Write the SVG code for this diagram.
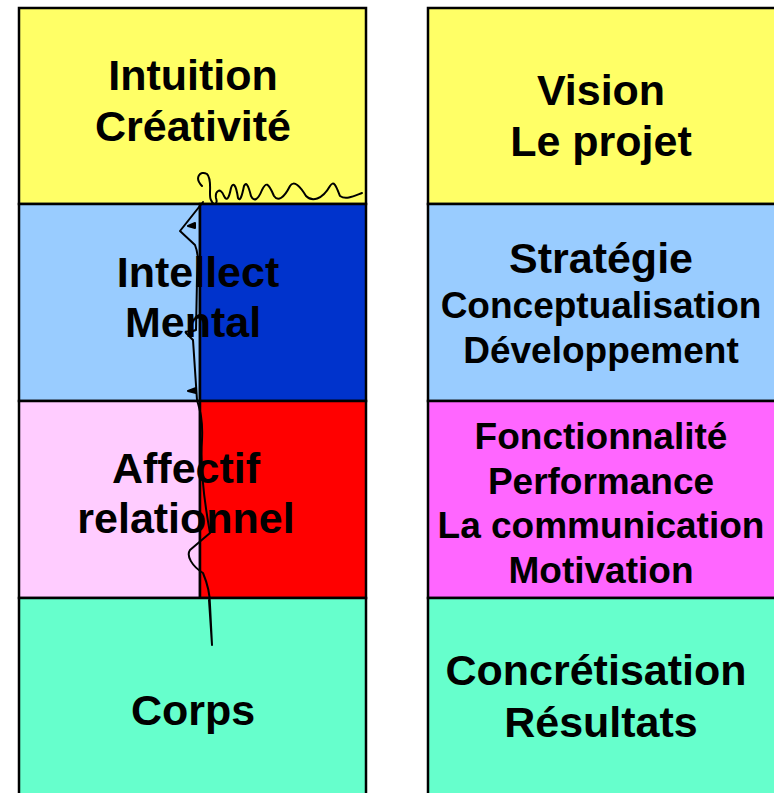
<svg xmlns="http://www.w3.org/2000/svg" width="774" height="793" viewBox="0 0 774 793">
<style>
.b{stroke:#000;stroke-width:2.5}
.t{font-family:"Liberation Sans",Arial,sans-serif;font-weight:bold;text-anchor:middle;fill:#000}
.L{font-size:43px}
.S{font-size:37px}
</style>
<rect width="774" height="793" fill="#fff"/>
<g id="left-column">
<g id="intuition">
<rect x="19" y="8" width="347" height="196" fill="#FFFF66" class="b"/>
<text class="t L" x="193" y="90">Intuition</text>
<text class="t L" x="193" y="141">Créativité</text>
</g>
<g id="intellect">
<rect x="19" y="204" width="181" height="197" fill="#99CCFF" class="b"/>
<rect x="200" y="204" width="166" height="197" fill="#0033CC" class="b"/>
<text class="t L" x="198" y="287">Intellect</text>
<text class="t L" x="193" y="337">Mental</text>
</g>
<g id="affectif">
<rect x="19" y="401" width="181" height="197" fill="#FFCCFF" class="b"/>
<rect x="200" y="401" width="166" height="197" fill="#FF0000" class="b"/>
<text class="t L" x="186" y="483">Affectif</text>
<text class="t L" x="186" y="533">relationnel</text>
</g>
<g id="corps">
<rect x="19" y="598" width="347" height="205" fill="#66FFCC" class="b"/>
<text class="t L" x="193" y="725">Corps</text>
</g>
</g>
<g id="right-column">
<g id="vision">
<rect x="428" y="8" width="360" height="196" fill="#FFFF66" class="b"/>
<text class="t L" x="601" y="105">Vision</text>
<text class="t L" x="601" y="156">Le projet</text>
</g>
<g id="strategie">
<rect x="428" y="204" width="360" height="197" fill="#99CCFF" class="b"/>
<text class="t L" x="601" y="273">Stratégie</text>
<text class="t S" x="601" y="318">Conceptualisation</text>
<text class="t S" x="601" y="363">Développement</text>
</g>
<g id="fonctionnalite">
<rect x="428" y="401" width="360" height="197" fill="#FF66FF" class="b"/>
<text class="t S" x="601" y="449">Fonctionnalité</text>
<text class="t S" x="601" y="494">Performance</text>
<text class="t S" x="601" y="538">La communication</text>
<text class="t S" x="601" y="583">Motivation</text>
</g>
<g id="concretisation">
<rect x="428" y="598" width="360" height="205" fill="#66FFCC" class="b"/>
<text class="t L" x="596" y="685">Concrétisation</text>
<text class="t L" x="601" y="737">Résultats</text>
</g>
</g>
<g id="connectors" fill="none" stroke="#000" stroke-width="2" stroke-linejoin="round" stroke-linecap="round">
<path d="M202,186 C194,178 200,170 207,174 C213,180 208,196 211,200 C214,207 218,204 216,198 C215,192 220,186 224,196 C227,202 229,198 231,188 C233,182 236,184 238,198 C240,202 242,196 244,186 C246,182 248,184 251,196 C254,202 258,200 262,190 C266,182 268,182 274,196 C278,202 284,198 290,186 C294,180 300,186 306,196 C312,202 322,200 330,186 C334,180 336,186 340,196 C346,200 354,196 362,193"/>
<path d="M203,202 L180,231 L195,245 C199,255 198,262 197,280 L196,330 C190,333 184,330 186,333 L193,340 L197,400 C200,410 203,420 202,440 C200,470 204,500 210,533 L190,550 C186,556 192,566 203,573 C208,585 210,595 210,605 L212,645 L209,600"/>
<path d="M195,223 L188,226 L195,228 Z M196,388 L188,391 L196,393 Z" fill="#000"/>
</g>
</svg>
